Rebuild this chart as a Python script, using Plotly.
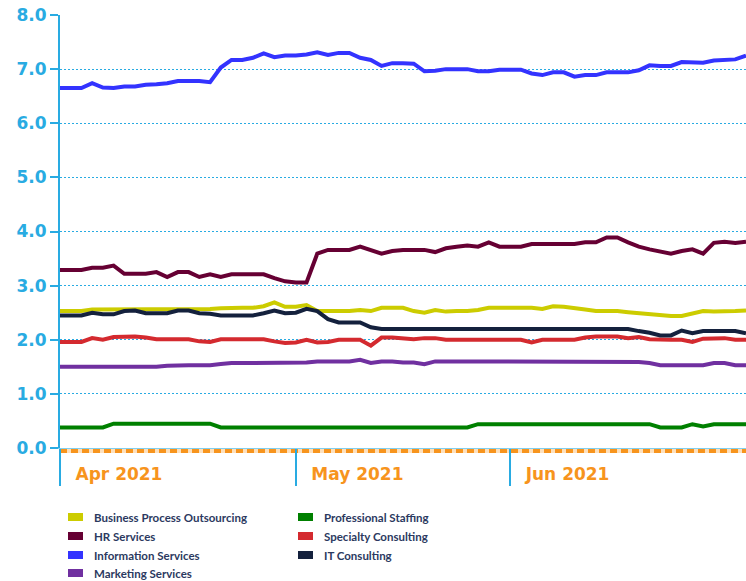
import pandas as pd
import plotly.graph_objects as go

# Trading days (weekdays, Memorial Day excluded)
dates = [d for d in pd.bdate_range("2021-04-01", "2021-07-01") if d != pd.Timestamp("2021-05-31")]

series_names = [
    "Business Process Outsourcing", "HR Services", "Information Services",
    "Marketing Services", "Professional Staffing", "Specialty Consulting", "IT Consulting",
]
series_colors = ["#cccc00", "#660033", "#3333ff", "#7030a0", "#008000", "#d42a2f", "#14213d"]

bpo = [2.53, 2.53, 2.53, 2.56, 2.56, 2.57, 2.57, 2.57, 2.57, 2.57,
       2.57, 2.57, 2.57, 2.57, 2.57, 2.58, 2.59, 2.59, 2.59, 2.62,
       2.69, 2.61, 2.61, 2.64, 2.53, 2.53, 2.53, 2.53, 2.55, 2.53,
       2.59, 2.59, 2.59, 2.53, 2.50, 2.55, 2.52, 2.53, 2.53, 2.55,
       2.59, 2.59, 2.59, 2.60, 2.59, 2.57, 2.62, 2.61, 2.59, 2.56,
       2.53, 2.53, 2.53, 2.51, 2.49, 2.48, 2.45, 2.44, 2.44, 2.48,
       2.53, 2.52, 2.52, 2.53, 2.54]
hr = [3.29, 3.29, 3.29, 3.33, 3.33, 3.37, 3.22, 3.22, 3.22, 3.25,
      3.16, 3.25, 3.25, 3.16, 3.21, 3.16, 3.21, 3.21, 3.21, 3.21,
      3.14, 3.08, 3.06, 3.06, 3.59, 3.66, 3.66, 3.66, 3.72, 3.66,
      3.59, 3.64, 3.66, 3.66, 3.66, 3.62, 3.69, 3.72, 3.74, 3.72,
      3.80, 3.72, 3.72, 3.72, 3.77, 3.77, 3.77, 3.77, 3.77, 3.80,
      3.80, 3.89, 3.89, 3.80, 3.72, 3.67, 3.63, 3.59, 3.64, 3.67,
      3.59, 3.79, 3.81, 3.79, 3.81]
info = [6.65, 6.65, 6.65, 6.74, 6.66, 6.65, 6.68, 6.68, 6.71, 6.72,
        6.74, 6.78, 6.78, 6.78, 6.76, 7.03, 7.17, 7.17, 7.21, 7.29,
        7.22, 7.25, 7.25, 7.27, 7.31, 7.26, 7.30, 7.30, 7.21, 7.17,
        7.06, 7.11, 7.11, 7.10, 6.96, 6.97, 7.00, 7.00, 7.00, 6.96,
        6.96, 6.99, 6.99, 6.99, 6.92, 6.89, 6.94, 6.94, 6.86, 6.89,
        6.89, 6.94, 6.94, 6.94, 6.98, 7.07, 7.06, 7.06, 7.13, 7.12,
        7.12, 7.16, 7.17, 7.18, 7.25]
marketing = [1.50, 1.50, 1.50, 1.50, 1.50, 1.50, 1.50, 1.50, 1.50, 1.50,
             1.52, 1.53, 1.53, 1.53, 1.53, 1.55, 1.57, 1.57, 1.57, 1.57,
             1.57, 1.57, 1.57, 1.58, 1.60, 1.60, 1.60, 1.60, 1.63, 1.57,
             1.60, 1.60, 1.58, 1.58, 1.55, 1.60, 1.60, 1.60, 1.60, 1.60,
             1.60, 1.60, 1.60, 1.60, 1.60, 1.60, 1.60, 1.60, 1.60, 1.60,
             1.60, 1.60, 1.60, 1.60, 1.59, 1.57, 1.53, 1.53, 1.53, 1.53,
             1.53, 1.57, 1.57, 1.53, 1.53]
prof = [0.38, 0.38, 0.38, 0.38, 0.38, 0.45, 0.45, 0.45, 0.45, 0.45,
        0.45, 0.45, 0.45, 0.45, 0.45, 0.38, 0.38, 0.38, 0.38, 0.38,
        0.38, 0.38, 0.38, 0.38, 0.38, 0.38, 0.38, 0.38, 0.38, 0.38,
        0.38, 0.38, 0.38, 0.38, 0.38, 0.38, 0.38, 0.38, 0.38, 0.44,
        0.44, 0.44, 0.44, 0.44, 0.44, 0.44, 0.44, 0.44, 0.44, 0.44,
        0.44, 0.44, 0.44, 0.44, 0.44, 0.44, 0.38, 0.38, 0.38, 0.44,
        0.40, 0.44, 0.44, 0.44, 0.44]
specialty = [1.96, 1.96, 1.96, 2.03, 2.00, 2.05, 2.06, 2.06, 2.04, 2.01,
             2.01, 2.01, 2.01, 1.97, 1.96, 2.01, 2.01, 2.01, 2.01, 2.01,
             1.97, 1.94, 1.95, 2.00, 1.95, 1.96, 2.00, 2.00, 2.00, 1.89,
             2.04, 2.04, 2.03, 2.01, 2.03, 2.03, 2.00, 2.00, 2.00, 2.00,
             2.00, 2.00, 2.00, 2.00, 1.95, 2.00, 2.00, 2.00, 2.00, 2.04,
             2.06, 2.06, 2.06, 2.03, 2.05, 2.01, 2.00, 2.00, 2.00, 1.96,
             2.02, 2.03, 2.03, 2.00, 2.00]
it = [2.45, 2.45, 2.45, 2.50, 2.47, 2.47, 2.53, 2.54, 2.49, 2.49,
      2.49, 2.54, 2.54, 2.49, 2.48, 2.45, 2.45, 2.45, 2.45, 2.49,
      2.54, 2.49, 2.50, 2.57, 2.53, 2.38, 2.32, 2.32, 2.32, 2.23,
      2.20, 2.20, 2.20, 2.20, 2.20, 2.20, 2.20, 2.20, 2.20, 2.20,
      2.20, 2.20, 2.20, 2.20, 2.20, 2.20, 2.20, 2.20, 2.20, 2.20,
      2.20, 2.20, 2.20, 2.20, 2.16, 2.13, 2.08, 2.08, 2.17, 2.12,
      2.16, 2.16, 2.16, 2.16, 2.12]
series_values = [bpo, hr, info, marketing, prof, specialty, it]

tick_dates = ["2021-04-01", "2021-05-03", "2021-06-01"]
tick_labels = ["Apr 2021", "May 2021", "Jun 2021"]
y_ticks = [0, 1, 2, 3, 4, 5, 6, 7, 8]

W, H = 746, 581
ML, MR, MT, MB = 60, 0, 15, 133
PW, PH = W - ML - MR, H - MT - MB
BLUE = "#29abe2"

fig = go.Figure()
for name, color, vals in zip(series_names, series_colors, series_values):
    fig.add_trace(go.Scatter(x=dates, y=vals, mode="lines", name=name,
                             line=dict(color=color, width=4), showlegend=False))


def px_x(px):
    return (px - ML) / PW


def px_y(py):
    return (H - MB - py) / PH


shapes = [
    dict(type="line", xref="paper", x0=0, x1=1, yref="paper", ysizemode="pixel", yanchor=0,
         y0=-3, y1=-3, line=dict(color="#fde0bd", width=4), layer="below"),
    dict(type="line", xref="paper", x0=0, x1=1, yref="paper", ysizemode="pixel", yanchor=0,
         y0=-3, y1=-3, line=dict(color="#f7941d", width=4, dash="7px,4px"), layer="below"),
]
annotations = []
# manual legend: two columns
legend_pos = [(68, 517), (68, 536), (68, 555), (68, 573), (298, 517), (298, 536), (298, 555)]
for (sx, sy), name, color in zip(legend_pos, series_names, series_colors):
    shapes.append(dict(type="rect", xref="paper", yref="paper",
                       x0=px_x(sx), x1=px_x(sx + 15), y0=px_y(sy + 4), y1=px_y(sy - 4),
                       fillcolor=color, line=dict(width=0)))
    annotations.append(dict(xref="paper", yref="paper", x=px_x(sx + 24), y=px_y(sy),
                            xanchor="left", yanchor="middle", showarrow=False, text=name,
                            font=dict(family="Lato", size=11.5, color="#2b3960", weight="bold")))

fig.update_layout(
    width=W, height=H, autosize=False,
    margin=dict(l=ML, r=MR, t=MT, b=MB, pad=0),
    paper_bgcolor="white", plot_bgcolor="white",
    shapes=shapes, annotations=annotations,
    xaxis=dict(
        type="date", range=[dates[0], dates[-1]],
        rangebreaks=[dict(bounds=["sat", "mon"]), dict(values=["2021-05-31"])],
        tickvals=tick_dates, ticktext=tick_labels,
        ticks="outside", ticklen=37, tickwidth=2, tickcolor=BLUE,
        ticklabelposition="outside right", ticklabelshift=14, ticklabelstandoff=11,
        tickfont=dict(family="DejaVu Sans", size=17, color="#f7941d", weight="bold"),
        showgrid=False, zeroline=False,
        showline=True, linecolor="#7fcff0", linewidth=1,
    ),
    yaxis=dict(
        range=[0, 8], tickvals=y_ticks, tickformat=".1f", ticksuffix="x",
        ticks="outside", ticklen=8, tickwidth=2, tickcolor=BLUE,
        ticklabeloverflow="allow",
        tickfont=dict(family="DejaVu Sans", size=17, color=BLUE, weight="bold"),
        showgrid=True, gridcolor=BLUE, gridwidth=1, griddash="2px,2px",
        zeroline=False, showline=True, linecolor=BLUE, linewidth=2,
    ),
)

fig.write_html(
    "out.html",
    config={"displayModeBar": False},
    post_script="document.body.style.margin='0';document.body.style.overflow='hidden';",
)
